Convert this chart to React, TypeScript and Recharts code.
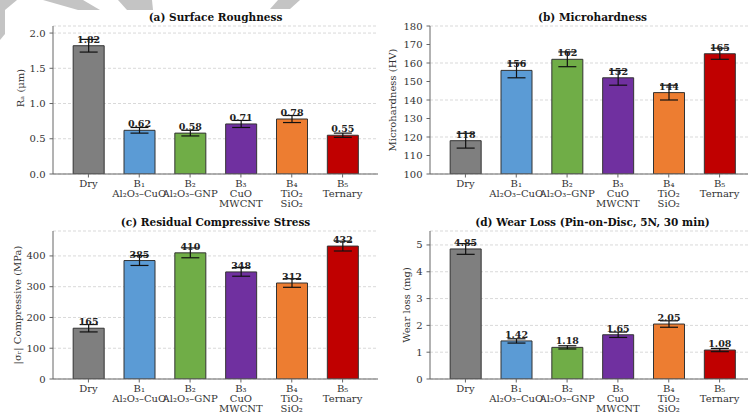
import { BarChart, Bar, XAxis, YAxis, CartesianGrid, ErrorBar, Cell, LabelList } from 'recharts';

const FONT = '"DejaVu Serif", serif';

const categories = ['Dry', 'B₁\nAl₂O₃–CuO', 'B₂\nAl₂O₃–GNP', 'B₃\nCuO\nMWCNT', 'B₄\nTiO₂\nSiO₂', 'B₅\nTernary'];
const barColors = ['#7f7f7f', '#5b9bd5', '#70ad47', '#7030a0', '#ed7d31', '#c00000'];

const roughness = [1.82, 0.62, 0.58, 0.71, 0.78, 0.55];
const roughnessErr = [0.09, 0.04, 0.04, 0.05, 0.05, 0.03];
const roughnessTicks = [0, 0.5, 1, 1.5, 2];

const hardness = [118, 156, 162, 152, 144, 165];
const hardnessErr = [4, 4, 4, 4, 4, 3];
const hardnessTicks = [100, 110, 120, 130, 140, 150, 160, 170, 180];

const stress = [165, 385, 410, 348, 312, 432];
const stressErr = [12, 16, 16, 14, 14, 16];
const stressTicks = [0, 100, 200, 300, 400];

const wear = [4.85, 1.42, 1.18, 1.65, 2.05, 1.08];
const wearErr = [0.2, 0.08, 0.06, 0.1, 0.12, 0.06];
const wearTicks = [0, 1, 2, 3, 4, 5];

const CHART_W = 380;
const CHART_H = 216;
const Y_AXIS_W = 40;

const XTick = ({ x, y, payload }: any) => {
    const lines = String(payload.value).split('\n');
    return (
        <text x={x} y={y} textAnchor="middle" fontFamily={FONT} fontSize={10} fill="#333">
            {lines.map((l, i) => (
                <tspan key={i} x={x} dy={i === 0 ? '0.71em' : 10}>{l}</tspan>
            ))}
        </text>
    );
};

const valueLabel = (decimals: number) => (props: any) => {
    const { x, y, width, value } = props;
    return (
        <text x={x + width / 2} y={y - 3} textAnchor="middle" fontFamily={FONT} fontWeight="bold" fontSize={9.5} fill="#222">
            {Number(value).toFixed(decimals)}
        </text>
    );
};

interface PanelProps {
    title: string;
    yLabel: string;
    values: number[];
    errors: number[];
    domain: [number, number];
    ticks: number[];
    tickDecimals: number;
    labelDecimals: number;
    left: number;
    top: number;
    margin: { top: number; right: number; bottom: number; left: number };
    yLabelDx: number;
    yLabelDy?: number;
}

function Panel({ title, yLabel, values, errors, domain, ticks, tickDecimals, labelDecimals, left, top, margin, yLabelDx, yLabelDy = 0 }: PanelProps) {
    const data = categories.map((name, i) => ({ name, value: values[i], err: errors[i] }));
    const axisStroke = '#666';
    // title sits centred over the plot area
    const plotLeft = margin.left + Y_AXIS_W;
    const plotW = CHART_W - plotLeft - margin.right;
    return (
        <div style={{ position: 'absolute', left, top, width: CHART_W, height: CHART_H }}>
            <BarChart width={CHART_W} height={CHART_H} data={data} margin={margin} barCategoryGap="20%">
                <CartesianGrid vertical={false} stroke="#d9d9d9" strokeDasharray="3 2" />
                <XAxis
                    dataKey="name"
                    interval={0}
                    padding={{ left: 10, right: 10 }}
                    height={40}
                    tick={<XTick />}
                    tickSize={3.5}
                    tickMargin={2}
                    tickLine={{ stroke: axisStroke }}
                    axisLine={{ stroke: axisStroke }}
                />
                <XAxis xAxisId="t" dataKey="name" orientation="top" height={0} tick={false} tickLine={false} axisLine={{ stroke: axisStroke }} />
                <YAxis
                    domain={domain}
                    ticks={ticks}
                    width={Y_AXIS_W}
                    tickSize={3.5}
                    tickMargin={4}
                    tickFormatter={(v: number) => v.toFixed(tickDecimals)}
                    tick={{ fontFamily: FONT, fontSize: 10, fill: '#333' }}
                    tickLine={{ stroke: axisStroke }}
                    axisLine={{ stroke: axisStroke }}
                    allowDataOverflow
                    label={{
                        content: ({ viewBox }: any) => {
                            const cx = viewBox.x + yLabelDx;
                            const cy = viewBox.y + viewBox.height / 2 + yLabelDy;
                            return (
                                <text x={cx} y={cy} transform={`rotate(-90 ${cx} ${cy})`} textAnchor="middle" dominantBaseline="central" fontFamily={FONT} fontSize={10} fill="#333">
                                    {yLabel}
                                </text>
                            );
                        },
                    }}
                />
                <YAxis yAxisId="r" orientation="right" width={0} domain={[0, 1]} tick={false} tickLine={false} axisLine={{ stroke: axisStroke }} />
                <Bar dataKey="value" stroke="#333" strokeWidth={1} isAnimationActive={false}>
                    {data.map((_, i) => (
                        <Cell key={i} fill={barColors[i]} />
                    ))}
                    <LabelList dataKey="value" content={valueLabel(labelDecimals)} />
                    <ErrorBar dataKey="err" width={9} stroke="#111" strokeWidth={1.2} isAnimationActive={false} />
                </Bar>
            </BarChart>
            <svg width={CHART_W} height={margin.top} style={{ position: 'absolute', left: 0, top: 0, pointerEvents: 'none' }}>
                <text x={plotLeft + plotW / 2} y={margin.top - 5} textAnchor="middle" fontFamily={FONT} fontWeight="bold" fontSize={10.5} fill="#111">
                    {title}
                </text>
            </svg>
        </div>
    );
}

export default function App() {
    return (
        <div style={{ position: 'absolute', left: 0, top: 0, width: 748, height: 412, overflow: 'hidden', background: '#fff' }}>
            <svg width={748} height={412} style={{ position: 'absolute', left: 0, top: 0 }}>
                <polygon points="0,0 17,0 5,10 0,10" fill="#c4c4c4" />
                <polygon points="0,10 5,10 5,34 0,40" fill="#c4c4c4" />
                <polygon points="43,0 83,0 100,10 78,10" fill="#c4c4c4" />
                <polygon points="118,0 152,0 153,10 127,10" fill="#c4c4c4" />
                <polygon points="278,0 300,0 290,9 270,9" fill="#c4c4c4" />
            </svg>
            <Panel
                title="(a) Surface Roughness"
                yLabel="Rₐ (μm)"
                values={roughness}
                errors={roughnessErr}
                domain={[0, 2.1]}
                ticks={roughnessTicks}
                tickDecimals={1}
                labelDecimals={2}
                left={0}
                top={0}
                margin={{ top: 26, right: 2, bottom: 2, left: 13 }}
                yLabelDx={7}
                yLabelDy={-12}
            />
            <Panel
                title="(b) Microhardness"
                yLabel="Microhardness (HV)"
                values={hardness}
                errors={hardnessErr}
                domain={[100, 180]}
                ticks={hardnessTicks}
                tickDecimals={0}
                labelDecimals={0}
                left={380}
                top={0}
                margin={{ top: 26, right: 5, bottom: 2, left: 10 }}
                yLabelDx={2}
            />
            <Panel
                title="(c) Residual Compressive Stress"
                yLabel="|σᵣ| Compressive (MPa)"
                values={stress}
                errors={stressErr}
                domain={[0, 481]}
                ticks={stressTicks}
                tickDecimals={0}
                labelDecimals={0}
                left={0}
                top={205}
                margin={{ top: 26, right: 2, bottom: 2, left: 13 }}
                yLabelDx={4}
            />
            <Panel
                title="(d) Wear Loss (Pin-on-Disc, 5N, 30 min)"
                yLabel="Wear loss (mg)"
                values={wear}
                errors={wearErr}
                domain={[0, 5.52]}
                ticks={wearTicks}
                tickDecimals={0}
                labelDecimals={2}
                left={380}
                top={205}
                margin={{ top: 26, right: 5, bottom: 2, left: 10 }}
                yLabelDx={16}
            />
        </div>
    );
}
